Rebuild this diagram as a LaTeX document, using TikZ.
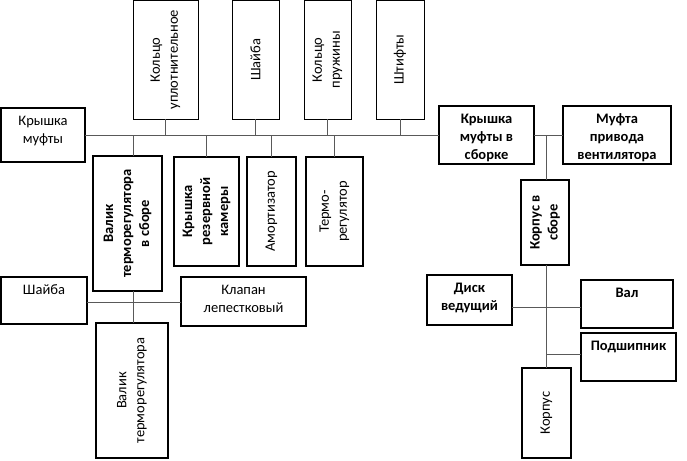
\documentclass[tikz,border=0pt]{standalone}
\usepackage{fontspec}
\usepackage{graphicx}
\setmainfont{Carlito}
\newcommand\mybxh[7]{%
  \node[#6, minimum width={(#4-#2)*1pt}, minimum height={(#5-#3)*1pt}] (#1) at ({(#2+#4)/2},{(#3+#5)/2})
  {\parbox[c][\dimexpr #5pt-#3pt\relax][t]{\dimexpr #4pt-#2pt-4pt\relax}{\centering\vspace*{8pt}#7\par}};}
\newcommand\mybxv[7]{%
  \node[#6, minimum width={(#4-#2)*1pt}, minimum height={(#5-#3)*1pt}] (#1) at ({(#2+#4)/2},{(#3+#5)/2})
  {\rotatebox{90}{\parbox{\dimexpr #5pt-#3pt-4pt\relax}{\centering #7}}};}
\tikzset{
  bxthick/.style={draw, line width=2.2pt, inner sep=0pt, outer sep=0pt, fill=white},
  bxthin/.style={draw, line width=0.9pt, inner sep=0pt, outer sep=0pt, fill=white},
  fr/.style={font=\fontsize{14.5}{18}\selectfont},
  fbd/.style={font=\fontsize{14.5}{18}\selectfont\bfseries},
  conn/.style={draw=black!65, line width=1pt},
}
\begin{document}
\begin{tikzpicture}[x=1pt,y=-1pt]
\useasboundingbox (0,0) rectangle (687,460);
% junction coordinates
\coordinate (j1) at (133,135);
\coordinate (j2) at (546,135);
\coordinate (j3) at (133,302);
\coordinate (j4) at (546,307);
\coordinate (j5) at (546,354);
% horizontal-text boxes
\mybxh{krm}{1}{108}{85}{162}{bxthick,fr}{Крышка\\муфты}
\mybxh{kms}{439}{106}{534}{164}{bxthick,fbd}{Крышка\\муфты в\\сборке}
\mybxh{mpv}{563}{106}{671}{164}{bxthick,fbd}{Муфта\\привода\\вентилятора}
\mybxh{sh2}{1}{277}{87}{324}{bxthick,fr}{Шайба}
\mybxh{klap}{181}{277}{306}{326}{bxthick,fr}{Клапан\\лепестковый}
\mybxh{disk}{427}{275}{512}{325}{bxthick,fbd}{Диск\\ведущий}
\mybxh{val}{581}{280}{673}{328}{bxthick,fbd}{Вал}
\mybxh{podsh}{581}{333}{676}{381}{bxthick,fbd}{Подшипник}
% vertical-text boxes
\mybxv{k1}{133}{0.5}{198}{119}{bxthin,fr}{Кольцо\\уплотнительное}
\mybxv{sh1}{232}{0.5}{279}{119}{bxthin,fr}{Шайба}
\mybxv{k2}{304}{0.5}{351}{119}{bxthin,fr}{Кольцо\\пружины}
\mybxv{sht}{376}{0.5}{424}{119}{bxthin,fr}{Штифты}
\mybxv{v1}{93}{156}{162}{291}{bxthick,fbd}{Валик\\терморегулятора\\в сборе}
\mybxv{krk}{174}{157}{239}{266}{bxthick,fbd}{Крышка\\резервной\\камеры}
\mybxv{am}{247}{157}{296}{266}{bxthick,fr}{Амортизатор}
\mybxv{tr}{306}{157}{363}{266}{bxthick,fr}{Термо-\\регулятор}
\mybxv{v2}{96}{323}{168}{458}{bxthick,fr}{Валик\\терморегулятора}
\mybxv{kvs}{521}{180}{569}{265}{bxthick,fbd}{Корпус в\\сборе}
\mybxv{korp}{522}{368}{571}{458}{bxthick,fr}{Корпус}
% connectors
\draw[conn] (krm.east) -- (kms.west);
\draw[conn] (kms.east) -- (mpv.west);
\draw[conn] (k1.south) -- (k1.south |- j1);
\draw[conn] (sh1.south) -- (sh1.south |- j1);
\draw[conn] (k2.south) -- (k2.south |- j1);
\draw[conn] (sht.south) -- (sht.south |- j1);
\draw[conn] (v1.north -| j1) -- (j1);
\draw[conn] (krk.north) -- (krk.north |- j1);
\draw[conn] (am.north) -- (am.north |- j1);
\draw[conn] (tr.north) -- (tr.north |- j1);
\draw[conn] (v1.south -| j1) -- (v2.north -| j1);
\draw[conn] (sh2.east |- j3) -- (klap.west |- j3);
\draw[conn] (j2) -- (kvs.north -| j2);
\draw[conn] (kvs.south -| j2) -- (korp.north -| j2);
\draw[conn] (disk.east |- j4) -- (val.west |- j4);
\draw[conn] (j5) -- (podsh.west |- j5);
\end{tikzpicture}
\end{document}
